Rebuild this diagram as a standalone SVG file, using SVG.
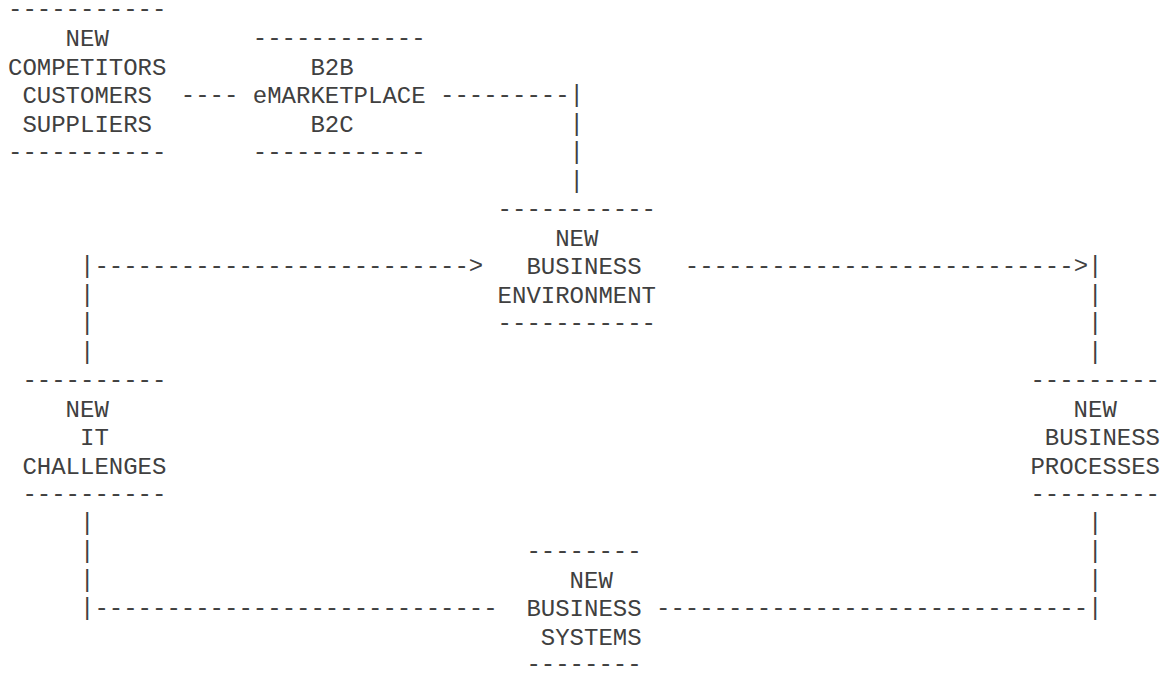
<svg xmlns="http://www.w3.org/2000/svg" width="1168" height="675" viewBox="0 0 1168 675">
<style>
text{font-family:"Liberation Mono","DejaVu Sans Mono",monospace;font-size:24px;fill:#404040;white-space:pre}
</style>
<rect width="1168" height="675" fill="#fff"/>
<g id="connectors">
<text x="180.8" y="101.5">----</text>
<text x="440" y="101.5">---------|</text>
<text x="569.6" y="130.5">|</text>
<text x="569.6" y="159">|</text>
<text x="569.6" y="187.5">|</text>
<text x="80" y="272.5">|--------------------------&gt;</text>
<text x="684.8" y="272.5">---------------------------&gt;|</text>
<text x="80" y="301.5">|</text>
<text x="80" y="330">|</text>
<text x="80" y="358.5">|</text>
<text x="1088" y="301.5">|</text>
<text x="1088" y="330">|</text>
<text x="1088" y="358.5">|</text>
<text x="80" y="529.5">|</text>
<text x="80" y="558">|</text>
<text x="80" y="586.5">|</text>
<text x="80" y="614.5">|----------------------------</text>
<text x="1088" y="529.5">|</text>
<text x="1088" y="558">|</text>
<text x="1088" y="586.5">|</text>
<text x="656" y="614.5">------------------------------|</text>
</g>
<g id="competitors">
<text x="8" y="15.5">-----------</text>
<text x="65.6" y="46">NEW</text>
<text x="8" y="74.5">COMPETITORS</text>
<text x="22.4" y="103">CUSTOMERS</text>
<text x="22.4" y="131.5">SUPPLIERS</text>
<text x="8" y="158.5">-----------</text>
</g>
<g id="emarketplace">
<text x="252.8" y="44.5">------------</text>
<text x="310.4" y="74.5">B2B</text>
<text x="252.8" y="103">eMARKETPLACE</text>
<text x="310.4" y="131.5">B2C</text>
<text x="252.8" y="158.5">------------</text>
</g>
<g id="business-environment">
<text x="497.6" y="215.5">-----------</text>
<text x="555.2" y="245.5">NEW</text>
<text x="526.4" y="274">BUSINESS</text>
<text x="497.6" y="302.5">ENVIRONMENT</text>
<text x="497.6" y="329.5">-----------</text>
</g>
<g id="it-challenges">
<text x="22.4" y="386.5">----------</text>
<text x="65.6" y="416.5">NEW</text>
<text x="80" y="445">IT</text>
<text x="22.4" y="473.5">CHALLENGES</text>
<text x="22.4" y="500.5">----------</text>
</g>
<g id="business-processes">
<text x="1030.4" y="386.5">---------</text>
<text x="1073.6" y="416.5">NEW</text>
<text x="1044.8" y="445">BUSINESS</text>
<text x="1030.4" y="473.5">PROCESSES</text>
<text x="1030.4" y="500.5">---------</text>
</g>
<g id="business-systems">
<text x="526.4" y="557.5">--------</text>
<text x="569.6" y="587.5">NEW</text>
<text x="526.4" y="616">BUSINESS</text>
<text x="540.8" y="644.5">SYSTEMS</text>
<text x="526.4" y="671">--------</text>
</g>
</svg>
